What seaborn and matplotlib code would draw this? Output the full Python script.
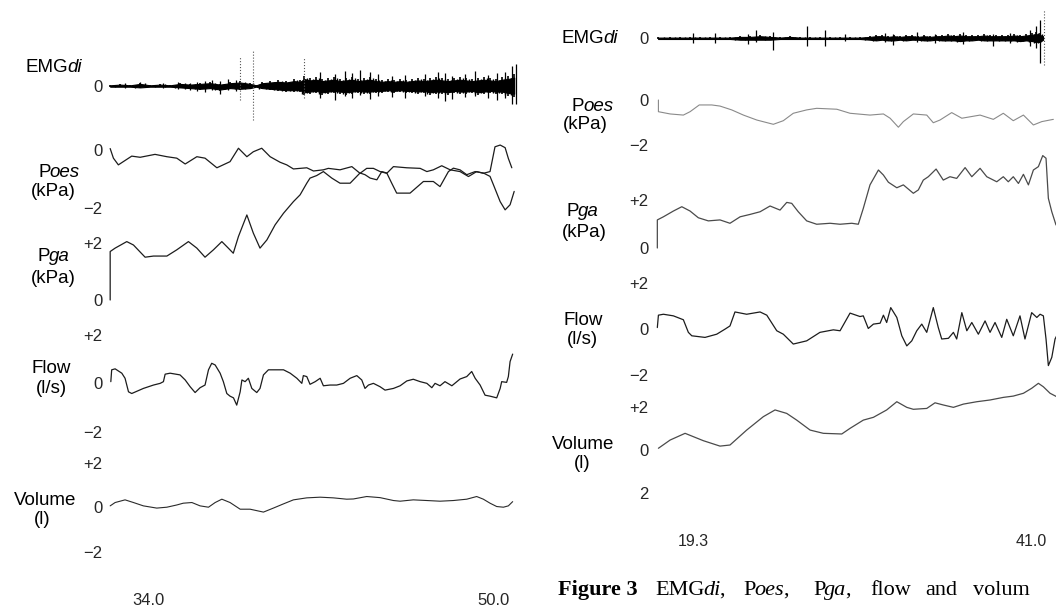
import matplotlib
matplotlib.use("Agg")
import matplotlib.pyplot as plt
from matplotlib.transforms import IdentityTransform
import numpy as np
import pandas as pd
import seaborn as sns

# ---------------- data ----------------
# left recording (time in s)
poes_l_t = [32.24, 32.39, 32.62, 33.24, 33.63, 34.32, 34.87, 35.33, 35.72, 36.26, 36.64, 37.19, 37.80,
            38.19, 38.58, 38.88, 39.27, 39.66, 40.12, 40.43, 40.74, 41.36, 41.67, 42.13, 42.36, 42.90,
            43.45, 43.83, 44.14, 44.45, 44.76, 45.07, 45.38, 46.00, 46.62, 46.93, 47.23, 47.62, 48.01,
            48.47, 48.86, 49.24, 49.55, 49.86, 50.09, 50.33, 50.56, 50.71, 50.87]
poes_l = [0.05, -0.28, -0.51, -0.21, -0.25, -0.15, -0.23, -0.28, -0.48, -0.23, -0.28, -0.61, -0.40,
          0.06, -0.23, -0.06, 0.06, -0.23, -0.42, -0.51, -0.65, -0.61, -0.72, -0.68, -0.63, -0.68,
          -0.57, -0.80, -0.63, -0.63, -0.74, -0.80, -0.57, -0.61, -0.63, -0.74, -0.68, -0.54, -0.68,
          -0.74, -0.91, -0.74, -0.80, -0.74, 0.11, 0.17, 0.08, -0.29, -0.61]

pga_l_t = [32.24, 32.24, 32.47, 33.01, 33.32, 33.86, 34.25, 34.87, 35.33, 35.87, 36.26, 36.64, 37.03,
           37.42, 37.72, 37.95, 38.19, 38.58, 38.88, 39.19, 39.51, 39.89, 40.28, 40.74, 41.05, 41.36,
           41.51, 41.82, 42.13, 42.52, 42.90, 43.37, 43.83, 44.06, 44.30, 44.61, 44.84, 45.07, 45.30,
           45.53, 46.15, 46.77, 47.23, 47.54, 47.93, 48.16, 48.47, 48.78, 49.17, 49.55, 49.86, 50.02,
           50.33, 50.56, 50.79, 50.98]
pga_l = [0, 1.71, 1.83, 2.06, 1.94, 1.51, 1.55, 1.55, 1.77, 2.06, 1.83, 1.51, 1.77, 2.06, 1.83, 1.65,
         2.24, 3.00, 2.36, 1.83, 2.12, 2.65, 3.06, 3.47, 3.71, 4.12, 4.30, 4.39, 4.53, 4.30, 4.12, 4.12,
         4.48, 4.42, 4.30, 4.24, 4.53, 4.48, 4.12, 3.77, 3.77, 4.18, 4.18, 4.00, 4.53, 4.65, 4.59, 4.42,
         4.53, 4.48, 4.36, 4.06, 3.47, 3.18, 3.36, 3.83]

flow_l_t = [32.27, 32.31, 32.47, 32.78, 32.93, 33.09, 33.24, 33.78, 34.25, 34.56, 34.71, 34.79, 35.02,
            35.48, 35.72, 35.95, 36.18, 36.41, 36.64, 36.80, 36.95, 37.11, 37.34, 37.49, 37.65, 37.80,
            37.96, 38.11, 38.27, 38.35, 38.50, 38.65, 38.81, 39.04, 39.19, 39.35, 39.58, 39.97, 40.28,
            40.59, 40.90, 41.13, 41.20, 41.36, 41.51, 41.75, 41.98, 42.13, 42.44, 42.75, 43.06, 43.37,
            43.68, 43.91, 44.06, 44.22, 44.45, 44.76, 44.99, 45.38, 45.69, 46.00, 46.30, 46.62, 46.93,
            47.16, 47.31, 47.54, 47.77, 48.09, 48.47, 48.78, 49.01, 49.17, 49.40, 49.63, 49.86, 50.17,
            50.33, 50.40, 50.63, 50.71, 50.79, 50.91]
flow_l = [0.07, 0.56, 0.60, 0.42, 0.21, -0.35, -0.42, -0.21, -0.07, 0, 0.07, 0.38, 0.42, 0.35, 0.14,
          -0.14, -0.38, -0.18, -0.07, 0.56, 0.83, 0.76, 0.42, 0.07, -0.42, -0.53, -0.60, -0.90, -0.35,
          0.14, 0.07, 0.21, -0.21, -0.38, -0.21, 0.35, 0.56, 0.56, 0.56, 0.42, 0.21, 0, 0.32, 0.28,
          -0.04, 0.07, 0.21, -0.10, -0.07, -0.07, 0, 0.21, 0.32, 0.14, -0.21, -0.07, 0, -0.14, -0.28,
          -0.21, -0.10, 0.10, 0.17, 0.07, 0, -0.18, 0, -0.10, 0.07, -0.10, 0.18, 0.28, 0.49, 0.21,
          -0.07, -0.49, -0.53, -0.60, -0.21, 0.07, 0.04, 0.28, 0.90, 1.21]

vol_l_t = [32.24, 32.47, 32.93, 33.32, 33.78, 34.40, 34.87, 35.33, 35.63, 36.03, 36.41, 36.80, 37.11,
           37.42, 37.80, 38.27, 38.73, 39.35, 39.81, 40.28, 40.74, 41.36, 41.98, 42.59, 43.21, 43.52,
           44.14, 44.76, 45.38, 45.69, 46.30, 46.93, 47.54, 48.16, 48.78, 49.24, 49.55, 49.86, 50.17,
           50.48, 50.71, 50.91]
vol_l = [0.06, 0.21, 0.33, 0.21, 0.06, -0.04, 0, 0.10, 0.18, 0.21, 0.06, 0, 0.21, 0.36, 0.21, -0.09,
         -0.09, -0.22, -0.04, 0.15, 0.33, 0.42, 0.45, 0.42, 0.36, 0.37, 0.48, 0.43, 0.30, 0.27, 0.33,
         0.30, 0.27, 0.30, 0.36, 0.48, 0.36, 0.18, 0.03, 0, 0.06, 0.25]

# EMGdi envelope (arbitrary units) and single bursts
emg_l_t = [32.24, 32.70, 33.17, 33.63, 34.09, 34.56, 35.02, 35.48, 35.95, 36.41, 36.88, 37.34, 37.80,
           38.27, 38.73, 39.01, 39.29, 39.66, 40.03, 40.40, 40.77, 41.05, 41.24, 41.51, 41.79, 42.07,
           42.35, 42.63, 42.90, 43.18, 43.46, 43.74, 44.02, 44.30, 44.57, 44.85, 45.13, 45.41, 45.69,
           45.97, 46.24, 46.52, 46.80, 47.08, 47.36, 47.64, 47.91, 48.19, 48.47, 48.75, 49.03, 49.31,
           49.58, 49.86, 50.14, 50.42, 50.70, 50.98]
emg_l_hi = [1, 2, 1, 3, 1, 2, 1, 3, 2, 3, 4, 2, 4, 5, 3, 1, 4, 5, 6, 5, 7, 6, 10, 8, 9, 7, 8, 9, 7, 8,
            9, 7, 8, 9, 7, 6, 7, 6, 7, 6, 7, 8, 7, 8, 9, 8, 7, 8, 9, 8, 7, 8, 9, 8, 7, 9, 10, 12]
emg_l_lo = [-1, -1, -1, -2, -1, -1, -1, -2, -3, -4, -3, -5, -3, -4, -3, -1, -3, -4, -5, -6, -6, -6, -9,
            -8, -7, -9, -8, -7, -8, -9, -8, -7, -8, -8, -7, -7, -6, -7, -6, -7, -7, -8, -7, -9, -8, -8,
            -9, -7, -8, -8, -7, -9, -8, -7, -8, -8, -10, -11]
emg_l_spk_t = [32.93, 33.63, 34.70, 35.39, 35.95, 36.27, 36.64, 36.97, 37.34, 37.71, 38.08, 41.98,
               42.67, 43.14, 43.46, 43.83, 44.30, 44.67, 45.32, 45.92, 46.85, 47.45, 47.77, 48.10,
               48.70, 49.17, 49.77, 50.19, 50.56, 50.88, 51.07]
emg_l_spk_hi = [3, 4, 3, 4, 3, 4, 5, 6, 5, 7, 6, 14, 12, 15, 13, 16, 14, 12, 10, 11, 12, 14, 13, 10,
                12, 15, 11, 13, 14, 20, 22]
emg_l_spk_lo = [-2, -1, -2, -3, -4, -5, -6, -4, -8, -4, -5, -12, -14, -10, -12, -9, -13, -10, -11,
                -12, -10, -12, -15, -13, -11, -10, -12, -14, -12, -18, -18]
emg_l_mark_t = [38.27, 38.86, 41.24]
emg_l_mark_hi = [29, 36, 28]
emg_l_mark_lo = [-14, -34, -12]

# right recording (time in s)
poes_r_t = [17.06, 17.06, 17.81, 18.66, 19.09, 19.68, 20.48, 21.01, 21.76, 22.51, 23.37, 24.43, 25.07,
            25.71, 26.57, 27.21, 28.50, 29.35, 30.63, 31.49, 31.92, 32.45, 32.77, 33.41, 34.27, 34.69,
            35.12, 35.87, 36.52, 37.69, 38.54, 39.18, 39.82, 40.47, 41.11, 41.65, 42.39]
poes_r = [0, -0.52, -0.62, -0.67, -0.52, -0.22, -0.22, -0.27, -0.44, -0.67, -0.89, -1.08, -0.92,
          -0.59, -0.44, -0.37, -0.41, -0.59, -0.67, -0.62, -0.81, -1.21, -0.96, -0.62, -0.67, -1.01,
          -0.89, -0.56, -0.81, -0.67, -0.86, -0.59, -0.92, -0.67, -1.11, -0.96, -0.86]

pga_r_t = [16.99, 16.99, 17.38, 18.02, 18.56, 19.09, 19.62, 20.26, 21.01, 21.65, 22.30, 22.94, 23.58,
           24.22, 24.86, 25.29, 25.61, 26.03, 26.57, 27.21, 28.07, 28.71, 29.46, 29.88, 30.20, 30.63,
           31.17, 31.49, 31.81, 32.35, 32.77, 33.41, 33.73, 34.05, 34.37, 34.87, 35.33, 35.76, 36.19,
           36.73, 37.16, 37.69, 38.12, 38.76, 39.18, 39.50, 39.82, 40.15, 40.47, 40.79, 41.11, 41.43,
           41.71, 41.92, 42.07, 42.29, 42.56]
pga_r = [0, 1.17, 1.30, 1.54, 1.72, 1.54, 1.26, 1.13, 1.17, 1.03, 1.30, 1.40, 1.51, 1.75, 1.58, 1.90,
         1.86, 1.51, 1.13, 0.99, 1.03, 0.99, 1.03, 0.99, 1.65, 2.63, 3.25, 3.04, 2.74, 2.51, 2.63, 2.28,
         2.42, 2.83, 2.97, 3.29, 2.83, 2.97, 2.90, 3.35, 2.97, 3.32, 2.97, 2.76, 2.97, 2.76, 2.97, 2.69,
         3.07, 2.63, 3.25, 3.39, 3.85, 3.74, 2.07, 1.51, 0.96]

flow_r_t = [16.99, 17.06, 17.38, 18.02, 18.66, 18.98, 19.20, 20.05, 20.80, 21.33, 21.65, 21.97, 22.72,
            23.58, 24.01, 24.65, 25.07, 25.71, 26.57, 27.42, 28.28, 28.71, 29.35, 29.99, 30.20, 30.52,
            30.85, 31.28, 31.49, 31.70, 31.96, 32.35, 32.67, 32.99, 33.31, 33.63, 33.95, 34.27, 34.69,
            35.01, 35.23, 35.66, 35.98, 36.19, 36.52, 36.84, 37.16, 37.58, 38.01, 38.33, 38.65, 39.08,
            39.40, 39.82, 40.25, 40.57, 41.00, 41.33, 41.54, 41.75, 41.92, 42.07, 42.29, 42.50, 42.82]
flow_r = [0.07, 0.61, 0.65, 0.58, 0.41, -0.14, -0.29, -0.36, -0.22, 0, 0.14, 0.75, 0.65, 0.75, 0.61,
          -0.07, -0.22, -0.65, -0.51, -0.14, -0.03, -0.07, 0.70, 0.55, 0.58, 0.03, 0.22, 0.26, 0.61,
          0.29, 0.94, 0.51, -0.29, -0.73, -0.51, -0.07, 0.22, -0.14, 0.94, 0.07, -0.43, -0.40, -0.14,
          -0.43, 0.72, -0.07, 0.29, -0.22, 0.36, -0.14, 0.29, -0.36, 0.43, -0.29, 0.58, -0.43, 0.72,
          0.51, 0.65, 0.58, -0.43, -1.59, -1.23, -0.43, 0]

vol_r_t = [17.06, 17.81, 18.77, 19.94, 21.01, 21.65, 22.72, 23.79, 24.54, 25.29, 25.93, 26.79, 27.64,
           28.82, 29.35, 30.20, 30.85, 31.70, 32.35, 32.99, 33.41, 34.27, 34.80, 35.33, 35.98, 36.62,
           37.48, 38.33, 39.18, 39.82, 40.47, 41.00, 41.43, 41.75, 42.18, 42.61]
vol_r = [0.08, 0.46, 0.77, 0.43, 0.18, 0.23, 0.92, 1.54, 1.85, 1.69, 1.38, 0.92, 0.77, 0.74, 1.00,
         1.38, 1.51, 1.85, 2.23, 1.97, 1.88, 1.92, 2.18, 2.08, 1.97, 2.12, 2.23, 2.31, 2.43, 2.49,
         2.62, 2.85, 3.08, 2.92, 2.62, 2.46]

emg_r_t = [17.04, 17.81, 18.45, 19.09, 19.73, 20.37, 21.01, 21.65, 22.30, 22.94, 23.58, 24.22, 24.86,
           25.50, 26.14, 26.79, 27.43, 28.07, 28.71, 29.35, 29.99, 30.63, 31.02, 31.40, 31.79, 32.17,
           32.56, 32.94, 33.33, 33.71, 34.10, 34.48, 34.87, 35.25, 35.64, 36.02, 36.41, 36.79, 37.18,
           37.56, 37.95, 38.33, 38.72, 39.10, 39.49, 39.87, 40.26, 40.64, 41.03, 41.28, 41.54, 41.73]
emg_r_hi = [1, 1, 1, 1, 1, 1, 1, 1, 2, 2, 3, 2, 1, 2, 1, 1, 1, 1, 1, 1, 1, 2, 3, 3, 2, 3, 2, 3, 3, 2,
            3, 2, 3, 3, 4, 3, 4, 3, 3, 3, 4, 3, 3, 3, 3, 4, 3, 4, 5, 6, 5, 2]
emg_r_lo = [-1, -1, -1, -1, -1, -1, -1, -1, -2, -2, -2, -2, -1, -1, -1, -1, -1, -1, -1, -1, -1, -2, -3,
            -2, -3, -3, -2, -3, -2, -2, -3, -3, -2, -3, -3, -3, -4, -3, -3, -2, -3, -3, -3, -3, -3,
            -3, -4, -3, -4, -5, -5, -2]
emg_r_spk_t = [19.28, 20.69, 22.81, 23.32, 24.41, 26.59, 27.75, 29.03, 31.59, 32.10, 33.64, 34.80,
               36.60, 38.52, 39.61, 40.90, 41.28, 41.54]
emg_r_spk_hi = [5, 5, 4, 8, 6, 12, 8, 4, 5, 4, 6, 4, 6, 4, 5, 8, 12, 18]
emg_r_spk_lo = [-5, -5, -6, -4, -12, -8, -8, -3, -4, -7, -4, -5, -6, -8, -5, -8, -10, -25]
emg_r_mark_t = [41.82]
emg_r_mark_hi = [28]
emg_r_mark_lo = [-27]

time_ticks_l = [34.0, 50.0]
time_ticks_r = [19.3, 41.0]

# ---------------- figure ----------------
sns.set_theme(style="white")
plt.rcParams['font.family'] = ['Liberation Sans', 'DejaVu Sans']

W, H = 1056, 607
fig = plt.figure(figsize=(W / 100, H / 100), dpi=100)
fig.patch.set_facecolor('white')

XL = (32.0, 51.25)   # left panel time window
XR = (16.52, 42.56)  # right panel time window
TICK_SIZE = 12
LABEL_SIZE = 13.5


def strip_axes(x0, x1, ytop, ybot):
    # axes placed in pixel units of the 1056x607 picture
    ax = fig.add_axes([x0 / W, 1 - ybot / H, (x1 - x0) / W, (ybot - ytop) / H])
    ax.patch.set_alpha(0)
    for sp in ax.spines.values():
        sp.set_visible(False)
    return ax


def finish(ax, xlim, ylim, yt, ylab, pad):
    ax.set_xlim(*xlim)
    ax.set_ylim(*ylim)
    ax.set_xticks([])
    ax.set_yticks(yt)
    ax.set_yticklabels(ylab)
    ax.tick_params(axis='y', length=0, pad=pad, labelsize=TICK_SIZE)
    ax.set_xlabel('')
    ax.set_ylabel('')


def trace(ax, t, v, color, lw=0.9):
    df = pd.DataFrame({'t': t, 'v': v})
    sns.lineplot(data=df, x='t', y='v', ax=ax, color=color, linewidth=lw,
                 estimator=None, sort=False)
    for ln in ax.lines:
        ln.set_clip_on(False)


def emg(ax, t, hi, lo, st, shi, slo, mt, mhi, mlo):
    t, hi, lo = np.asarray(t), np.asarray(hi, float), np.asarray(lo, float)
    # solid core of the burst plus ragged strokes out to the envelope
    ax.fill_between(t, lo * 0.7, hi * 0.7, color='black', linewidth=0.8)
    ax.vlines(t, lo, hi, color='black', linewidth=1.2)
    ax.vlines((t[:-1] + t[1:]) / 2, lo[1:] * 0.85, hi[:-1] * 0.85, color='black', linewidth=1.0)
    ax.vlines(st, slo, shi, color='black', linewidth=0.9)
    ax.vlines(mt, mlo, mhi, color='#555555', linewidth=0.8, linestyles=':')


def rich(x, y, parts, size=LABEL_SIZE, family=None, ha='center'):
    # several text pieces on one baseline (pixel coords, y measured from top)
    r = fig.canvas.get_renderer()
    items = []
    for s, style, weight in parts:
        kw = dict(fontsize=size, style=style, weight=weight, va='baseline', ha='left',
                  transform=IdentityTransform(), color='black')
        if family:
            kw['family'] = family
        txt = fig.text(0, 0, s, **kw)
        items.append((txt, txt.get_window_extent(r).width))
    total = sum(w for _, w in items) - (len(items) - 1)
    cur = x - total / 2 if ha == 'center' else x
    for txt, w in items:
        txt.set_position((cur, H - y))
        cur += w - 1


N, I, B = 'normal', 'italic', 'bold'

# ----- left recording -----
ax = strip_axes(105, 520, 46, 126)
emg(ax, emg_l_t, emg_l_hi, emg_l_lo, emg_l_spk_t, emg_l_spk_hi, emg_l_spk_lo,
    emg_l_mark_t, emg_l_mark_hi, emg_l_mark_lo)
finish(ax, XL, (-40, 40), [0], ['0'], 2)

ax = strip_axes(105, 520, 150, 208.3)
trace(ax, poes_l_t, poes_l, '#1c1c1c')
finish(ax, XL, (-2, 0), [-2, 0], ['\u22122', '0'], 2)

ax = strip_axes(105, 520, 243.3, 300)
trace(ax, pga_l_t, pga_l, '#1c1c1c')
finish(ax, XL, (0, 2), [0, 2], ['0', '+2'], 2)

ax = strip_axes(105, 520, 335, 431.7)
trace(ax, flow_l_t, flow_l, '#1c1c1c')
finish(ax, XL, (-2, 2), [-2, 0, 2], ['\u22122', '0', '+2'], 2)

ax = strip_axes(105, 520, 462.7, 551.7)
trace(ax, vol_l_t, vol_l, '#2a2a2a', 0.8)
finish(ax, XL, (-2, 2), [-2, 0, 2], ['\u22122', '0', '+2'], 2)
ax.set_xticks(time_ticks_l)
ax.set_xticklabels([f'{v:.1f}' for v in time_ticks_l])
ax.tick_params(axis='x', length=0, pad=30, labelsize=TICK_SIZE)

# ----- right recording -----
ax = strip_axes(650, 1056, 8.3, 68.3)
emg(ax, emg_r_t, emg_r_hi, emg_r_lo, emg_r_spk_t, emg_r_spk_hi, emg_r_spk_lo,
    emg_r_mark_t, emg_r_mark_hi, emg_r_mark_lo)
finish(ax, XR, (-30, 30), [0], ['0'], 1)

ax = strip_axes(650, 1056, 100, 145)
trace(ax, poes_r_t, poes_r, '#8a8a8a', 0.8)
finish(ax, XR, (-2, 0), [-2, 0], ['\u22122', '0'], 1)

ax = strip_axes(650, 1056, 200, 248)
trace(ax, pga_r_t, pga_r, '#4a4a4a')
finish(ax, XR, (0, 2), [0, 2], ['0', '+2'], 1)

ax = strip_axes(650, 1056, 283.3, 375)
trace(ax, flow_r_t, flow_r, '#1c1c1c')
finish(ax, XR, (-2, 2), [-2, 0, 2], ['\u22122', '0', '+2'], 1)

ax = strip_axes(650, 1056, 406.7, 493.3)
trace(ax, vol_r_t, vol_r, '#4a4a4a')
finish(ax, XR, (-2, 2), [-2, 0, 2], ['2', '0', '+2'], 1)
ax.set_xticks(time_ticks_r)
ax.set_xticklabels([f'{v:.1f}' for v in time_ticks_r])
ax.tick_params(axis='x', length=0, pad=29, labelsize=11.5)

# ----- channel names -----
rich(54, 71.7, [('EMG', N, N), ('di', I, N)])
rich(59, 176.7, [('P', N, N), ('oes', I, N)])
rich(53, 196, [('(kPa)', N, N)])
rich(54, 260.7, [('P', N, N), ('ga', I, N)])
rich(53, 282.7, [('(kPa)', N, N)])
rich(51, 373.3, [('Flow', N, N)])
rich(51, 393.3, [('(l/s)', N, N)])
rich(45, 505, [('Volume', N, N)])
rich(42, 524.3, [('(l)', N, N)])

rich(590, 43.3, [('EMG', N, N), ('di', I, N)])
rich(592.5, 111, [('P', N, N), ('oes', I, N)])
rich(585.5, 129.3, [('(kPa)', N, N)])
rich(583, 216, [('P', N, N), ('ga', I, N)])
rich(584, 237.3, [('(kPa)', N, N)])
rich(583, 325, [('Flow', N, N)])
rich(582.5, 344.3, [('(l/s)', N, N)])
rich(583, 449.3, [('Volume', N, N)])
rich(582, 467.7, [('(l)', N, N)])

# ----- caption (justified line, cut at the right edge) -----
serif = ['Liberation Serif', 'DejaVu Serif']
cap = 16
rich(558, 595, [('Figure 3', N, B)], cap, serif, 'left')
rich(655, 595, [('EMG', N, N), ('di', I, N), (',', N, N)], cap, serif, 'left')
rich(743, 595, [('P', N, N), ('oes', I, N), (',', N, N)], cap, serif, 'left')
rich(813, 595, [('P', N, N), ('ga', I, N), (',', N, N)], cap, serif, 'left')
rich(870, 595, [('flow', N, N)], cap, serif, 'left')
rich(925, 595, [('and', N, N)], cap, serif, 'left')
rich(973, 595, [('volum', N, N)], cap, serif, 'left')

fig.savefig('out.png', dpi=100, facecolor='white')
